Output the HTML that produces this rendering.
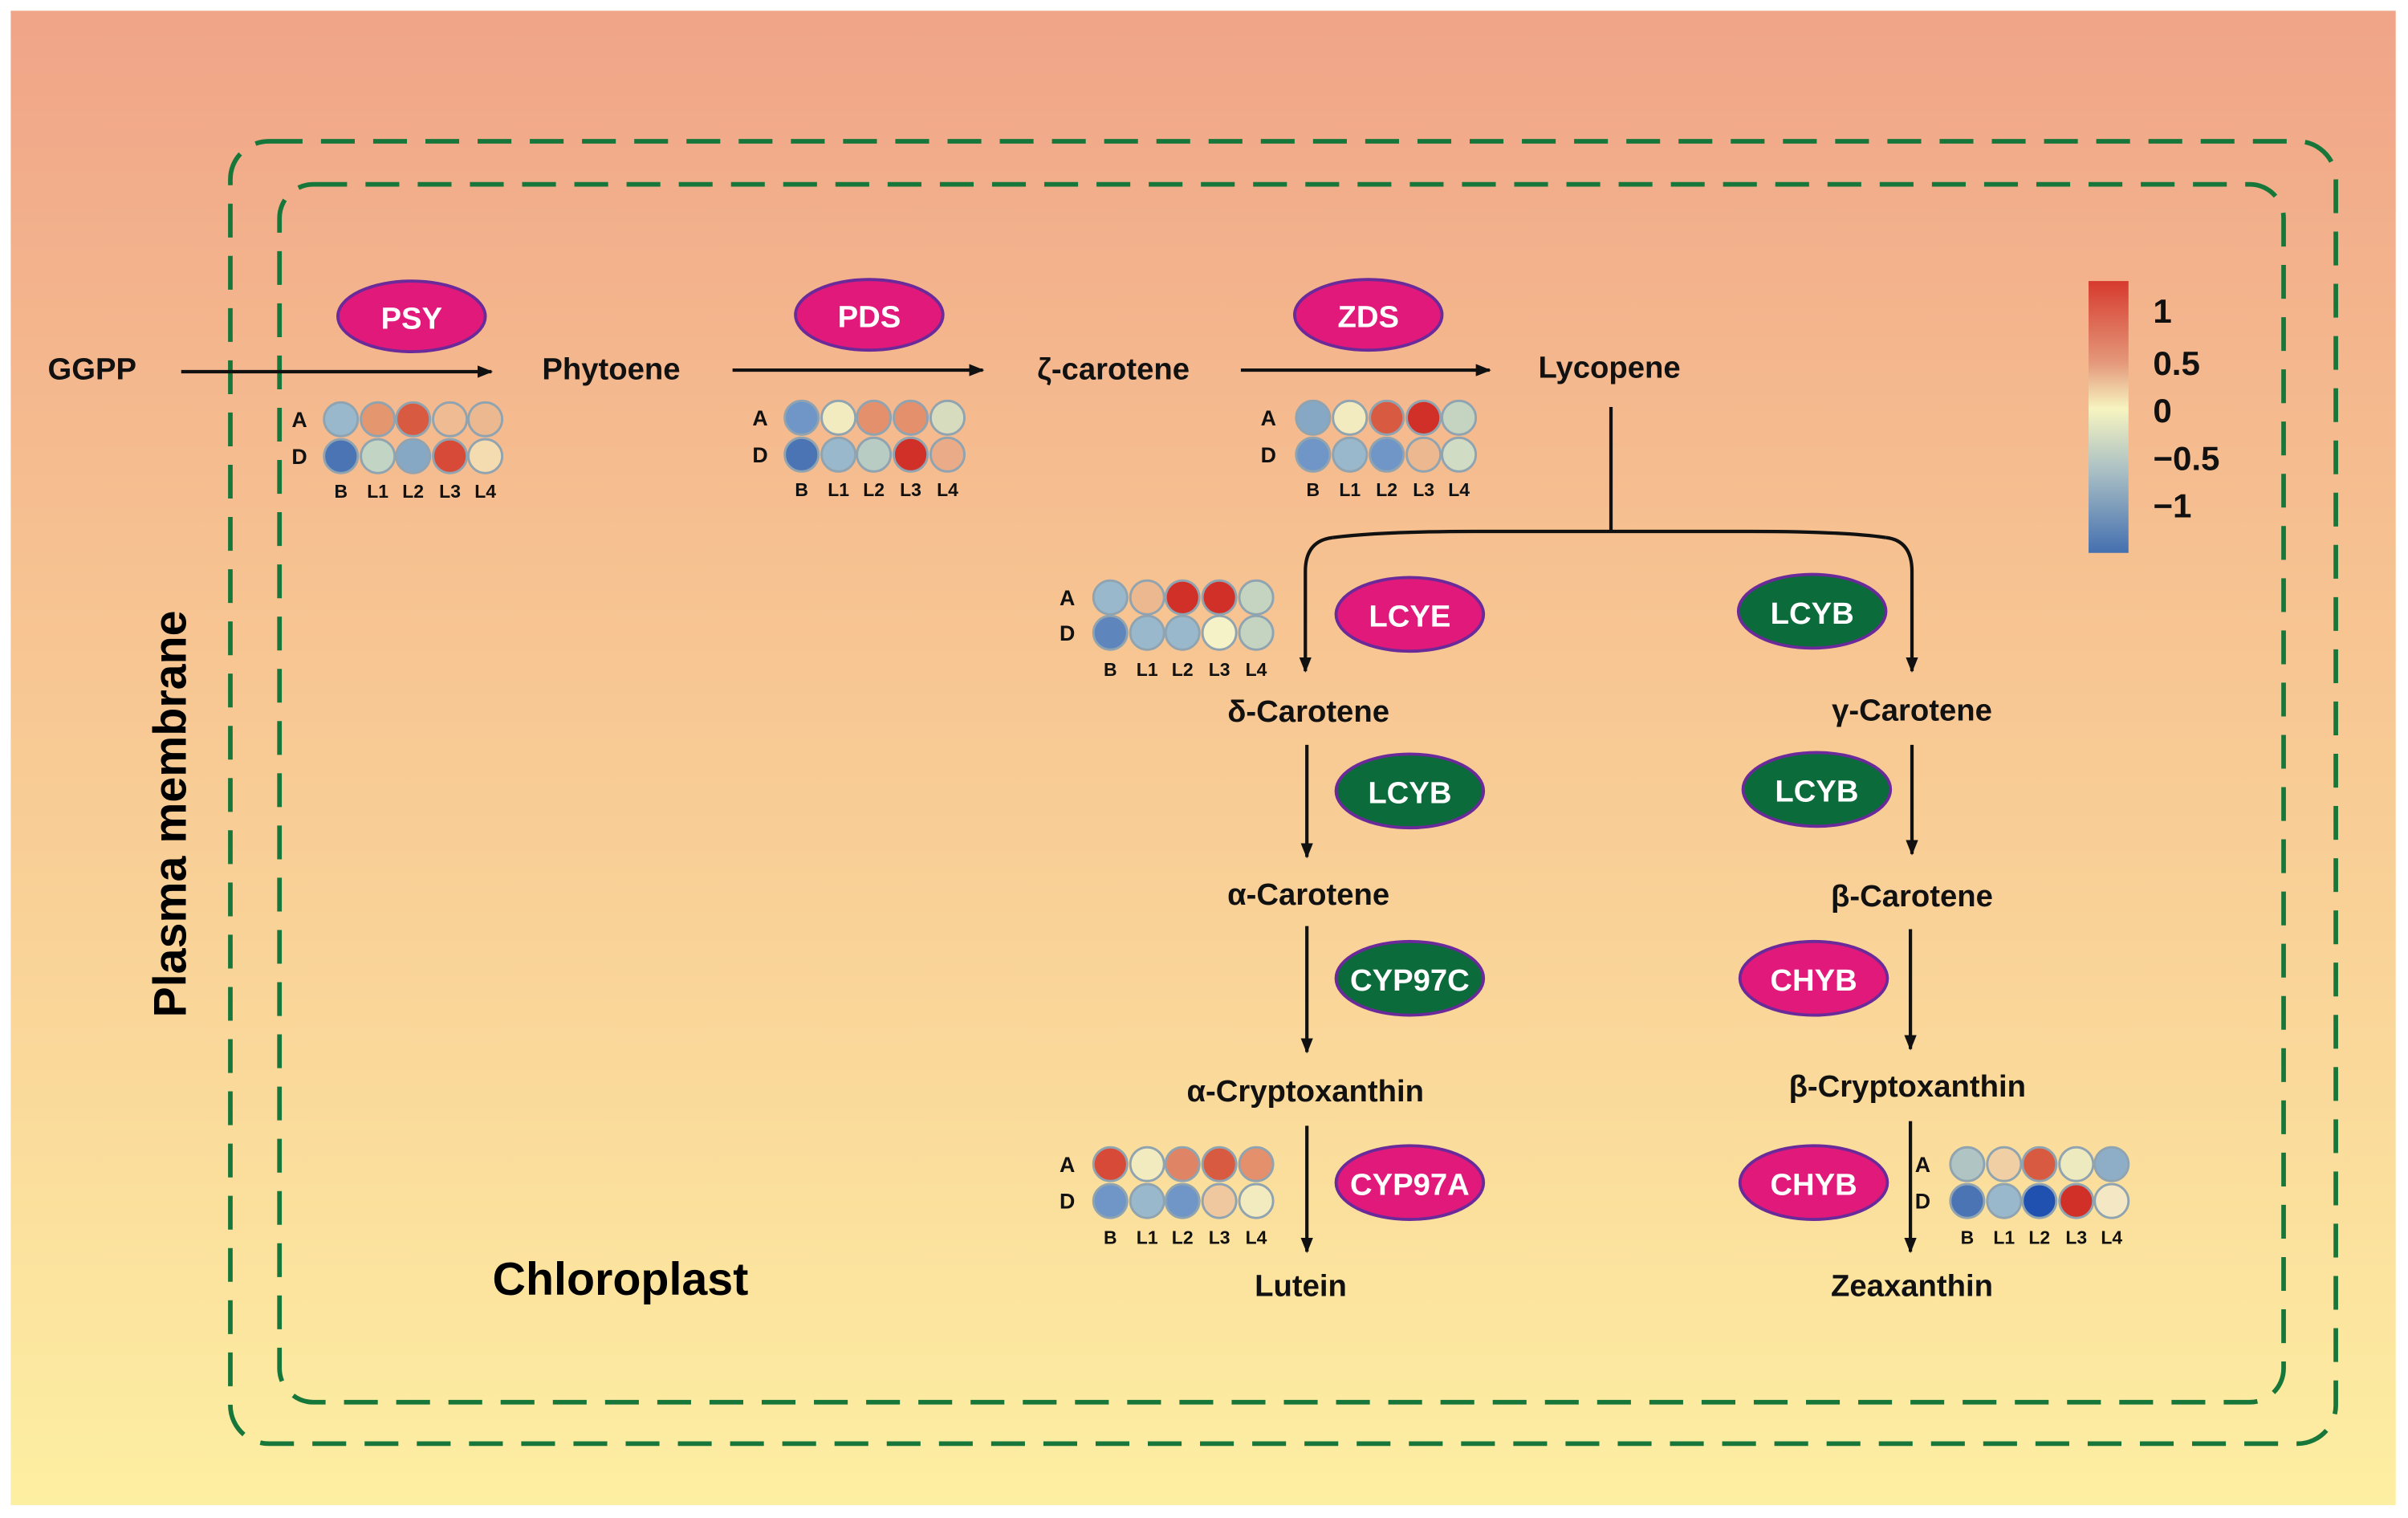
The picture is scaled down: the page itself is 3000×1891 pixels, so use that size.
<!DOCTYPE html>
<html><head><meta charset="utf-8"><style>
html,body{margin:0;padding:0;background:#fff}
svg{display:block}
text{font-family:"Liberation Sans",Arial,sans-serif;font-weight:bold}
</style></head><body>
<svg width="3000" height="1891" viewBox="0 0 1568 988.4" preserveAspectRatio="none" xmlns="http://www.w3.org/2000/svg">
<defs>
<linearGradient id="bg" x1="0" y1="0" x2="0" y2="1">
<stop offset="0" stop-color="#f0a488"/><stop offset="0.35" stop-color="#f6c090"/><stop offset="0.7" stop-color="#fad89a"/><stop offset="1" stop-color="#fdefa2"/>
</linearGradient>
<linearGradient id="cb" x1="0" y1="0" x2="0" y2="1">
<stop offset="0" stop-color="#d63a2e"/><stop offset="0.3" stop-color="#e4987a"/><stop offset="0.47" stop-color="#f6f4c0"/><stop offset="0.7" stop-color="#a9bfc4"/><stop offset="1" stop-color="#4470b0"/>
</linearGradient>
<marker id="ah" markerWidth="10" markerHeight="8" refX="9" refY="4" orient="auto" markerUnits="userSpaceOnUse"><path d="M0,0 L10,4 L0,8 Z" fill="#111"/></marker>
</defs>
<rect x="0" y="0" width="1568" height="988.4" fill="#fff"/>
<rect x="7" y="7" width="1553" height="973" fill="url(#bg)"/>
<g fill="none" stroke="#17773a" stroke-width="3" stroke-dasharray="22 12">
<rect x="150" y="92" width="1371" height="848" rx="25"/>
<rect x="182" y="120" width="1305" height="793" rx="22"/>
</g>
<text x="113" y="530" font-size="30" text-anchor="middle" transform="rotate(-90 113 530)" dominant-baseline="middle">Plasma membrane</text>
<text x="404" y="843" font-size="30" text-anchor="middle">Chloroplast</text>
<g stroke="#111" stroke-width="2.2" fill="none" marker-end="url(#ah)">
<line x1="118" y1="242" x2="320" y2="242"/>
<line x1="477" y1="241" x2="640" y2="241"/>
<line x1="808" y1="241" x2="970" y2="241"/>
<path d="M868,350 Q850,352 850,372 L850,437"/>
<path d="M1228,350 Q1245,352 1245,372 L1245,437"/>
<line x1="851" y1="485" x2="851" y2="558"/>
<line x1="851" y1="603" x2="851" y2="685"/>
<line x1="851" y1="733" x2="851" y2="815"/>
<line x1="1245" y1="485" x2="1245" y2="556"/>
<line x1="1244" y1="605" x2="1244" y2="683"/>
<line x1="1244" y1="730" x2="1244" y2="815"/>
</g>
<g stroke="#111" stroke-width="2.2" fill="none">
<line x1="1049" y1="265" x2="1049" y2="347"/>
<path d="M868,350 Q900,346 960,346 L1140,346 Q1200,346 1228,350"/>
</g>
<g font-size="20" text-anchor="middle" fill="#111">
<text x="60" y="247">GGPP</text>
<text x="398" y="247">Phytoene</text>
<text x="725" y="247">ζ-carotene</text>
<text x="1048" y="246">Lycopene</text>
<text x="852" y="470">δ-Carotene</text>
<text x="1245" y="469">γ-Carotene</text>
<text x="852" y="589">α-Carotene</text>
<text x="1245" y="590">β-Carotene</text>
<text x="850" y="717">α-Cryptoxanthin</text>
<text x="1242" y="714">β-Cryptoxanthin</text>
<text x="847" y="844">Lutein</text>
<text x="1245" y="844">Zeaxanthin</text>
</g>
<g stroke="#6a2a9a" stroke-width="2">
<ellipse cx="268" cy="206" rx="48" ry="23" fill="#e0197a"/>
<ellipse cx="566" cy="205" rx="48" ry="23" fill="#e0197a"/>
<ellipse cx="891" cy="205" rx="48" ry="23" fill="#e0197a"/>
<ellipse cx="918" cy="400" rx="48" ry="24" fill="#e0197a"/>
<ellipse cx="1180" cy="398" rx="48" ry="24" fill="#0b6b3a"/>
<ellipse cx="918" cy="515" rx="48" ry="24" fill="#0b6b3a"/>
<ellipse cx="1183" cy="514" rx="48" ry="24" fill="#0b6b3a"/>
<ellipse cx="918" cy="637" rx="48" ry="24" fill="#0b6b3a"/>
<ellipse cx="1181" cy="637" rx="48" ry="24" fill="#e0197a"/>
<ellipse cx="918" cy="770" rx="48" ry="24" fill="#e0197a"/>
<ellipse cx="1181" cy="770" rx="48" ry="24" fill="#e0197a"/>
</g>
<g font-size="20" text-anchor="middle" fill="#fff">
<text x="268" y="214">PSY</text>
<text x="566" y="213">PDS</text>
<text x="891" y="213">ZDS</text>
<text x="918" y="408">LCYE</text>
<text x="1180" y="406">LCYB</text>
<text x="918" y="523">LCYB</text>
<text x="1183" y="522">LCYB</text>
<text x="918" y="645">CYP97C</text>
<text x="1181" y="645">CHYB</text>
<text x="918" y="778">CYP97A</text>
<text x="1181" y="778">CHYB</text>
</g>
<rect x="1360" y="183" width="26" height="177" fill="url(#cb)"/>
<g font-size="22" fill="#111">
<text x="1402" y="210">1</text>
<text x="1402" y="244">0.5</text>
<text x="1402" y="275">0</text>
<text x="1402" y="306">−0.5</text>
<text x="1402" y="337">−1</text>
</g>
<g stroke="#8fa3b0" stroke-width="1.5">
<circle cx="222" cy="273" r="11" fill="#9ab8cc"/><circle cx="246" cy="273" r="11" fill="#e4966e"/><circle cx="269" cy="273" r="11" fill="#d85a40"/><circle cx="293" cy="273" r="11" fill="#efbb92"/><circle cx="316" cy="273" r="11" fill="#ecb890"/>
<circle cx="222" cy="297" r="11" fill="#4a74b4"/><circle cx="246" cy="297" r="11" fill="#c2d4c4"/><circle cx="269" cy="297" r="11" fill="#86a8c4"/><circle cx="293" cy="297" r="11" fill="#d84a38"/><circle cx="316" cy="297" r="11" fill="#f4dcb0"/>
<circle cx="522" cy="272" r="11" fill="#6f96c6"/><circle cx="546" cy="272" r="11" fill="#f2ebc0"/><circle cx="569" cy="272" r="11" fill="#e4906c"/><circle cx="593" cy="272" r="11" fill="#e4906c"/><circle cx="617" cy="272" r="11" fill="#d8dcbe"/>
<circle cx="522" cy="296" r="11" fill="#4a74b4"/><circle cx="546" cy="296" r="11" fill="#9ab8cc"/><circle cx="569" cy="296" r="11" fill="#b8ccc4"/><circle cx="593" cy="296" r="11" fill="#d03028"/><circle cx="617" cy="296" r="11" fill="#eaac88"/>
<circle cx="855" cy="272" r="11" fill="#86a8c4"/><circle cx="879" cy="272" r="11" fill="#f2ebc0"/><circle cx="903" cy="272" r="11" fill="#d85a40"/><circle cx="927" cy="272" r="11" fill="#d03028"/><circle cx="950" cy="272" r="11" fill="#c4d4c0"/>
<circle cx="855" cy="296" r="11" fill="#6f96c6"/><circle cx="879" cy="296" r="11" fill="#9ab8cc"/><circle cx="903" cy="296" r="11" fill="#6f96c6"/><circle cx="927" cy="296" r="11" fill="#ecb890"/><circle cx="950" cy="296" r="11" fill="#d0dcc4"/>
<circle cx="723" cy="389" r="11" fill="#9ab8cc"/><circle cx="747" cy="389" r="11" fill="#ecb890"/><circle cx="770" cy="389" r="11" fill="#d03028"/><circle cx="794" cy="389" r="11" fill="#d03028"/><circle cx="818" cy="389" r="11" fill="#c4d4c0"/>
<circle cx="723" cy="412" r="11" fill="#5f86bc"/><circle cx="747" cy="412" r="11" fill="#9ab8cc"/><circle cx="770" cy="412" r="11" fill="#9ab8cc"/><circle cx="794" cy="412" r="11" fill="#f6f2c8"/><circle cx="818" cy="412" r="11" fill="#c4d4c0"/>
<circle cx="723" cy="758" r="11" fill="#d84a38"/><circle cx="747" cy="758" r="11" fill="#f2ebc0"/><circle cx="770" cy="758" r="11" fill="#e08466"/><circle cx="794" cy="758" r="11" fill="#d85a40"/><circle cx="818" cy="758" r="11" fill="#e4906c"/>
<circle cx="723" cy="782" r="11" fill="#6f96c6"/><circle cx="747" cy="782" r="11" fill="#9ab8cc"/><circle cx="770" cy="782" r="11" fill="#6f96c6"/><circle cx="794" cy="782" r="11" fill="#efc8a0"/><circle cx="818" cy="782" r="11" fill="#f2ebc0"/>
<circle cx="1281" cy="758" r="11" fill="#b0c4c4"/><circle cx="1305" cy="758" r="11" fill="#f0cfa4"/><circle cx="1328" cy="758" r="11" fill="#d85a40"/><circle cx="1352" cy="758" r="11" fill="#eeeac0"/><circle cx="1375" cy="758" r="11" fill="#8eaec8"/>
<circle cx="1281" cy="782" r="11" fill="#4a74b4"/><circle cx="1305" cy="782" r="11" fill="#9ab8cc"/><circle cx="1328" cy="782" r="11" fill="#2050b0"/><circle cx="1352" cy="782" r="11" fill="#d03028"/><circle cx="1375" cy="782" r="11" fill="#f4e8c4"/>
</g>
<g font-size="14" fill="#111" text-anchor="middle">
<text x="195" y="278">A</text><text x="195" y="302">D</text>
<text x="495" y="277">A</text><text x="495" y="301">D</text>
<text x="826" y="277">A</text><text x="826" y="301">D</text>
<text x="695" y="394">A</text><text x="695" y="417">D</text>
<text x="695" y="763">A</text><text x="695" y="787">D</text>
<text x="1252" y="763">A</text><text x="1252" y="787">D</text>
</g>
<g font-size="12" fill="#111" text-anchor="middle">
<text x="222" y="324">B</text><text x="246" y="324">L1</text><text x="269" y="324">L2</text><text x="293" y="324">L3</text><text x="316" y="324">L4</text>
<text x="522" y="323">B</text><text x="546" y="323">L1</text><text x="569" y="323">L2</text><text x="593" y="323">L3</text><text x="617" y="323">L4</text>
<text x="855" y="323">B</text><text x="879" y="323">L1</text><text x="903" y="323">L2</text><text x="927" y="323">L3</text><text x="950" y="323">L4</text>
<text x="723" y="440">B</text><text x="747" y="440">L1</text><text x="770" y="440">L2</text><text x="794" y="440">L3</text><text x="818" y="440">L4</text>
<text x="723" y="810">B</text><text x="747" y="810">L1</text><text x="770" y="810">L2</text><text x="794" y="810">L3</text><text x="818" y="810">L4</text>
<text x="1281" y="810">B</text><text x="1305" y="810">L1</text><text x="1328" y="810">L2</text><text x="1352" y="810">L3</text><text x="1375" y="810">L4</text>
</g>
</svg>
</body></html>
